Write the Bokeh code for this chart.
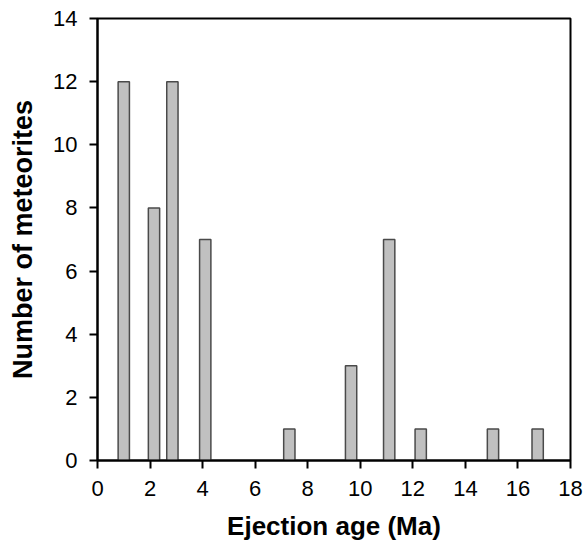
from bokeh.plotting import figure
from bokeh.embed import file_html
from bokeh.resources import INLINE
from bokeh.models import FixedTicker, ColumnDataSource

# Data
ejection_age = [1.0, 2.15, 2.85, 4.1, 7.3, 9.65, 11.1, 12.3, 15.05, 16.75]
num_meteorites = [12, 8, 12, 7, 1, 3, 7, 1, 1, 1]
x_ticks = [0, 2, 4, 6, 8, 10, 12, 14, 16, 18]
y_ticks = [0, 2, 4, 6, 8, 10, 12, 14]
bar_width = 0.43

src = ColumnDataSource(dict(x=ejection_age, top=num_meteorites))

p = figure(width=583, height=546, x_range=(0, 18), y_range=(0, 14),
           output_backend="svg", toolbar_location=None,
           min_border_left=97, min_border_top=18, min_border_right=13,
           min_border_bottom=86)

p.vbar(x="x", top="top", bottom=0, width=bar_width, source=src,
       fill_color="#c0c0c0", line_color="#4a4a4a", line_width=1.5)

p.xgrid.visible = False
p.ygrid.visible = False
p.outline_line_color = "black"
p.outline_line_width = 2
p.background_fill_color = "white"
p.border_fill_color = "white"

for ax in (p.xaxis[0], p.yaxis[0]):
    ax.axis_line_width = 2
    ax.axis_line_color = "black"
    ax.major_tick_line_width = 2
    ax.major_tick_line_color = "black"
    ax.major_tick_in = 0
    ax.major_tick_out = 8
    ax.minor_tick_line_color = None
    ax.major_label_text_font = "Liberation Sans"
    ax.major_label_text_font_size = "22px"
    ax.major_label_text_color = "black"
    ax.axis_label_text_font = "Liberation Sans"
    ax.axis_label_text_font_style = "bold"
    ax.axis_label_text_color = "black"

p.xaxis.axis_label_text_font_size = "26px"
p.yaxis.axis_label_text_font_size = "27px"
p.xaxis.ticker = FixedTicker(ticks=x_ticks)
p.yaxis.ticker = FixedTicker(ticks=y_ticks)
p.xaxis.axis_label = "Ejection age (Ma)"
p.yaxis.axis_label = "Number of meteorites"
p.xaxis.major_label_standoff = 12
p.yaxis.major_label_standoff = 12
p.xaxis.axis_label_standoff = 12
p.yaxis.axis_label_standoff = 12

open("out.html", "w").write(file_html(p, INLINE))
